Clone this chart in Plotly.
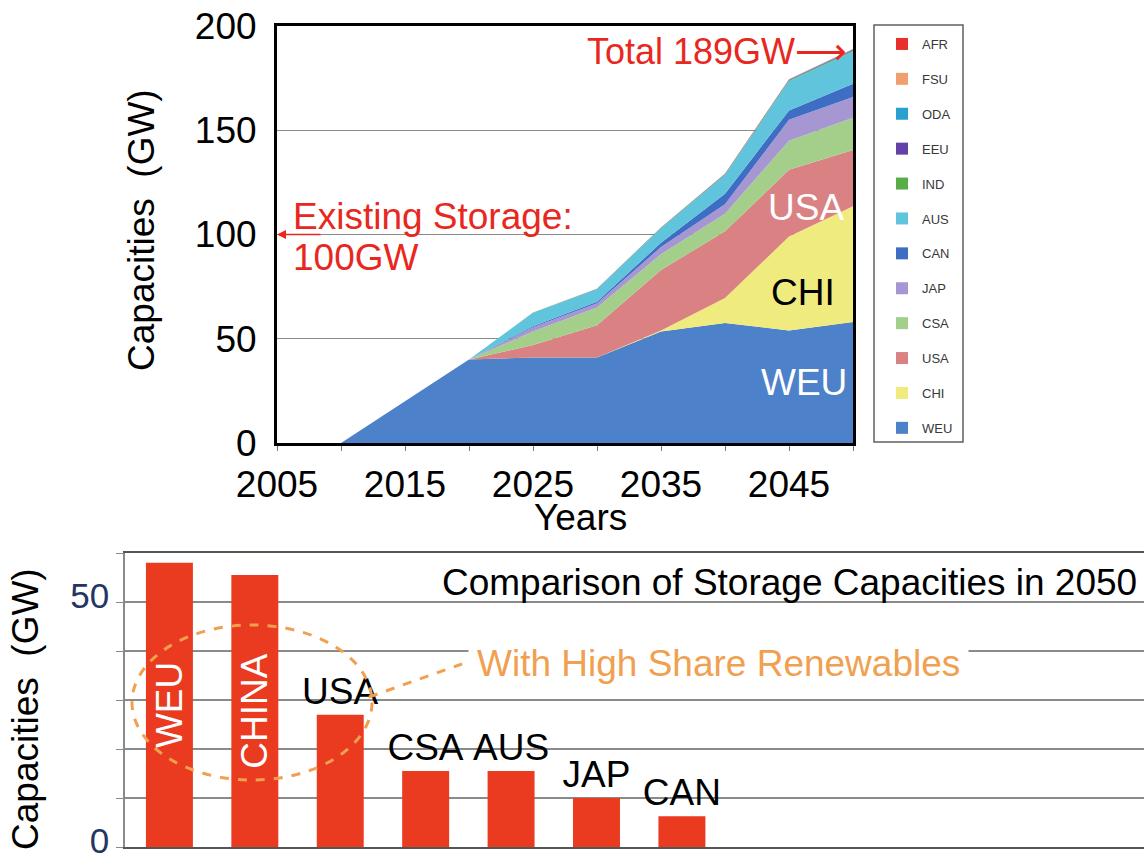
import plotly.graph_objects as go

W, H = 1144, 854
FONT = "Liberation Sans, Arial, sans-serif"

# ---- storage capacity by region (GW), stacked from bottom to top ----
years = [2010, 2015, 2020, 2025, 2030, 2035, 2040, 2045, 2050]
weu = [0, 20, 40, 41, 41, 53.5, 57.5, 54, 58]
chi = [0, 0, 0, 0, 0, 0.5, 12, 45, 55.5]
usa = [0, 0, 0, 6, 15.5, 29, 32, 32, 27]
csa = [0, 0, 0, 6.5, 8.5, 7.5, 8.5, 14, 15.5]
jap = [0, 0, 0, 2, 2, 3.5, 4.5, 10, 10]
can = [0, 0, 0, 0.5, 0.8, 2, 5, 4.5, 6.3]
aus = [0, 0, 0, 6.5, 6, 7, 9, 14, 15.5]
ind = [0, 0, 0, 0.1, 0.1, 0.2, 0.3, 0.4, 0.5]
eeu = [0, 0, 0, 0, 0.1, 0.1, 0.2, 0.2, 0.3]
oda = [0, 0, 0, 0, 0, 0.1, 0.1, 0.2, 0.2]
fsu = [0, 0, 0, 0, 0, 0, 0.1, 0.1, 0.1]
afr = [0, 0, 0, 0, 0, 0, 0, 0.1, 0.1]

region_names = ["WEU", "CHI", "USA", "CSA", "JAP", "CAN", "AUS", "IND", "EEU", "ODA", "FSU", "AFR"]
region_values = [weu, chi, usa, csa, jap, can, aus, ind, eeu, oda, fsu, afr]
region_colors = ["#4d81c9", "#efeb7e", "#da8283", "#a3cf8b", "#a697d3", "#3e6ec3",
                 "#5fc4dc", "#5aac48", "#6242a8", "#2a9fd0", "#f0a070", "#e8302a"]

# ---- 2050 comparison ----
bar_regions = ["WEU", "CHINA", "USA", "CSA", "AUS", "JAP", "CAN"]
bar_values = [58, 55.5, 27, 15.5, 15.5, 10, 6.3]

top_year_ticks = list(range(2005, 2051, 5))
top_year_labels = [str(y) if (y - 2005) % 10 == 0 and y < 2050 else "" for y in top_year_ticks]


def px(x):
    return x / W


def py(y):
    return 1 - y / H


fig = go.Figure()

# stacked areas
for name, vals, col in zip(region_names, region_values, region_colors):
    fig.add_trace(go.Scatter(
        x=years, y=vals, name=name, stackgroup="regions", mode="lines",
        line=dict(width=0, color=col), fillcolor=col, showlegend=False,
        xaxis="x", yaxis="y", hoverinfo="x+y+name",
    ))

# legend entries (top to bottom)
for name, col in zip(region_names[::-1], region_colors[::-1]):
    fig.add_trace(go.Scatter(
        x=[None], y=[None], mode="markers", name=name, legendgroup=name,
        marker=dict(symbol="square", size=8, color=col),
        xaxis="x", yaxis="y", showlegend=True,
    ))

total_2050 = sum(v[-1] for v in region_values)

# bars: inner vertical labels for the two largest, labels above for the rest
fig.add_trace(go.Bar(
    x=bar_regions[:2], y=bar_values[:2], text=bar_regions[:2],
    textposition="inside", insidetextanchor="middle", textangle=-90,
    textfont=dict(family=FONT, size=37, color="white"), constraintext="none",
    marker=dict(color="#ea3a1f", line=dict(width=0)), width=0.55,
    xaxis="x2", yaxis="y2", showlegend=False,
))
fig.add_trace(go.Bar(
    x=bar_regions[2:], y=bar_values[2:], text=bar_regions[2:],
    textposition="outside", textangle=0, cliponaxis=False,
    textfont=dict(family=FONT, size=37, color="black"), constraintext="none",
    marker=dict(color="#ea3a1f", line=dict(width=0)), width=0.55,
    xaxis="x2", yaxis="y2", showlegend=False,
))

red = "#e8281e"
orange = "#f0a050"
arrow_span = '<span style="font-family:DejaVu Sans">\u27f6</span>'


def note(text, x, y, size=37, color="black", xanchor="center", **kw):
    d = dict(text=text, x=x, y=y, xref="paper", yref="paper", xanchor=xanchor,
             yanchor="middle", showarrow=False, font=dict(size=size, color=color))
    d.update(kw)
    return d


annotations = [
    # axis titles
    note("Capacities\u00a0\u00a0(GW)", px(141), py(230), textangle=-90),
    note("Years", px(580), py(517)),
    note("Capacities\u00a0\u00a0(GW)", px(25), py(709), textangle=-90),
    # top chart notes
    note(f"Total {total_2050:.0f}GW{arrow_span}", px(849), py(52), size=36, color=red,
         xanchor="right"),
    note("Existing Storage:", px(291), py(216), color=red, xanchor="left"),
    note("100GW", px(291), py(257), color=red, xanchor="left"),
    dict(text="", x=2005, y=100, xref="x", yref="y", ax=45, ay=0, axref="pixel", ayref="pixel",
         showarrow=True, arrowhead=2, arrowsize=1.2, arrowwidth=1.5, arrowcolor=red),
    # region labels on the areas
    dict(text="USA", x=2046.3, y=113, xref="x", yref="y", showarrow=False,
         xanchor="center", yanchor="middle", font=dict(size=37, color="white")),
    dict(text="CHI", x=2046.1, y=72, xref="x", yref="y", showarrow=False,
         xanchor="center", yanchor="middle", font=dict(size=37, color="black")),
    dict(text="WEU", x=2046.2, y=29, xref="x", yref="y", showarrow=False,
         xanchor="center", yanchor="middle", font=dict(size=37, color="white")),
    # bottom chart notes
    note("Comparison of Storage Capacities in 2050", px(789), py(582)),
    note("With High Share Renewables", px(718), py(663), color=orange,
         bgcolor="white", borderpad=8),
]

shapes = [
    # legend frame
    dict(type="rect", xref="paper", yref="paper", x0=px(874), x1=px(963), y0=py(442), y1=py(25),
         line=dict(color="#606060", width=1.5), fillcolor="rgba(0,0,0,0)", layer="below"),
    # dashed ellipse around the high-renewables bars
    dict(type="circle", xref="paper", yref="paper", x0=px(132), x1=px(372), y0=py(780), y1=py(625),
         line=dict(color=orange, width=3, dash="dash"), layer="above"),
    dict(type="line", xref="paper", yref="paper", x0=px(369), y0=py(697), x1=px(462), y1=py(664),
         line=dict(color=orange, width=3, dash="dash"), layer="above"),
]

fig.update_layout(
    template="none",
    width=W, height=H,
    margin=dict(l=0, r=0, t=0, b=0, pad=0, autoexpand=False),
    paper_bgcolor="white", plot_bgcolor="white",
    font=dict(family=FONT, size=37, color="black"),
    barmode="overlay",
    xaxis=dict(domain=[px(277), px(853)], range=[2005, 2050], anchor="y", automargin=False,
               tickmode="array", tickvals=top_year_ticks, ticktext=top_year_labels,
               ticks="outside", ticklen=5, tickcolor="#777777", tickwidth=1,
               tickfont=dict(size=37), ticklabelstandoff=2,
               showline=True, mirror=True, linecolor="black", linewidth=3,
               showgrid=False, zeroline=False),
    yaxis=dict(domain=[py(443), py(26)], range=[0, 200], anchor="x", automargin=False,
               tickmode="array", tickvals=[0, 50, 100, 150, 200],
               ticks="", tickfont=dict(size=37), ticklabelstandoff=10,
               showline=True, mirror=True, linecolor="black", linewidth=3,
               showgrid=True, gridcolor="#8a8a8a", gridwidth=1.2, zeroline=False),
    xaxis2=dict(domain=[px(125), 1.0], range=[-0.52, 11.41], anchor="y2", type="category",
                automargin=False, showticklabels=False, ticks="",
                showline=True, mirror=True, linecolor="#555555", linewidth=2,
                showgrid=False, zeroline=False),
    yaxis2=dict(domain=[py(847), py(553)], range=[0, 60], anchor="x2", automargin=False,
                tickmode="array", tickvals=[0, 10, 20, 30, 40, 50, 60],
                ticktext=["0", "", "", "", "", "50", ""],
                ticks="outside", ticklen=7, tickcolor="#8a8a8a",
                tickfont=dict(size=35, color="#253563"), ticklabelstandoff=0,
                ticklabelshift=-6, ticklabeloverflow="allow",
                showline=True, linecolor="#8a8a8a", linewidth=1.5,
                showgrid=True, gridcolor="#8a8a8a", gridwidth=1.5, zeroline=False),
    legend=dict(x=px(882), y=py(29), xanchor="left", yanchor="top",
                font=dict(size=13, color="#383838"), bgcolor="rgba(0,0,0,0)",
                borderwidth=0, traceorder="grouped", tracegroupgap=15,
                itemsizing="constant"),
    annotations=annotations,
    shapes=shapes,
    showlegend=True,
)

fig.write_html("out.html")
